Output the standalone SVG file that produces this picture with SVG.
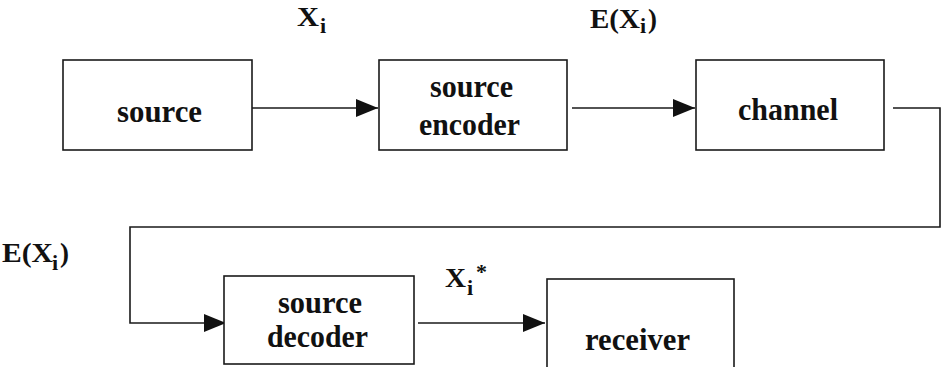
<svg xmlns="http://www.w3.org/2000/svg" width="941" height="367" viewBox="0 0 941 367">
<style>
.box{fill:#fff;stroke:#1a1a1a;stroke-width:1.6}
.ln{fill:none;stroke:#1a1a1a;stroke-width:1.6}
text{fill:#111;font-weight:700}
.t{font-size:31px}
.lb{font-size:27px}
.sb{font-size:22px}
</style>
<defs>
<marker id="ah" markerUnits="userSpaceOnUse" markerWidth="22" markerHeight="18" refX="22" refY="9" orient="auto">
<path d="M0,0 L22,9 L0,18 z" fill="#111"/>
</marker>
</defs>
<rect width="941" height="367" fill="#fff"/>
<g id="connectors">
<path class="ln" d="M252,108 H378" marker-end="url(#ah)"/>
<path class="ln" d="M572,108 H695" marker-end="url(#ah)"/>
<path class="ln" d="M893,108 H940 V227 H130 V323 H226" marker-end="url(#ah)"/>
<path class="ln" d="M418,323 H545" marker-end="url(#ah)"/>
</g>
<g font-family="Liberation Serif, serif">
<g id="source">
<rect class="box" x="63" y="60" width="189" height="90"/>
<text class="t" x="117" y="122" textLength="85" lengthAdjust="spacingAndGlyphs">source</text>
</g>
<g id="source-encoder">
<rect class="box" x="379" y="60" width="188" height="90"/>
<text class="t" x="430" y="97" textLength="83" lengthAdjust="spacingAndGlyphs">source</text>
<text class="t" x="419" y="135" textLength="101" lengthAdjust="spacingAndGlyphs">encoder</text>
</g>
<g id="channel">
<rect class="box" x="696" y="60" width="188" height="90"/>
<text class="t" x="738" y="120" textLength="100" lengthAdjust="spacingAndGlyphs">channel</text>
</g>
<g id="source-decoder">
<rect class="box" x="224" y="276" width="190" height="88"/>
<text class="t" x="278" y="313" textLength="84" lengthAdjust="spacingAndGlyphs">source</text>
<text class="t" x="267" y="347" textLength="101" lengthAdjust="spacingAndGlyphs">decoder</text>
</g>
<g id="receiver">
<rect class="box" x="547" y="279" width="187" height="92"/>
<text class="t" x="585" y="350" textLength="105" lengthAdjust="spacingAndGlyphs">receiver</text>
</g>
<g id="labels">
<text class="lb" x="297" y="26" textLength="22" lengthAdjust="spacingAndGlyphs">X</text><text class="sb" x="320" y="33">i</text>
<text class="lb" x="590" y="28" textLength="50" lengthAdjust="spacingAndGlyphs">E(X</text><text class="sb" x="640" y="33">i</text><text class="lb" x="648" y="28">)</text>
<text class="lb" x="2" y="262" textLength="51" lengthAdjust="spacingAndGlyphs">E(X</text><text class="sb" x="52" y="270">i</text><text class="lb" x="60" y="262">)</text>
<text class="lb" x="445" y="287" textLength="21" lengthAdjust="spacingAndGlyphs">X</text><text class="sb" x="467" y="295">i</text><text class="sb" x="476" y="279">*</text>
</g>
</g>
</svg>
